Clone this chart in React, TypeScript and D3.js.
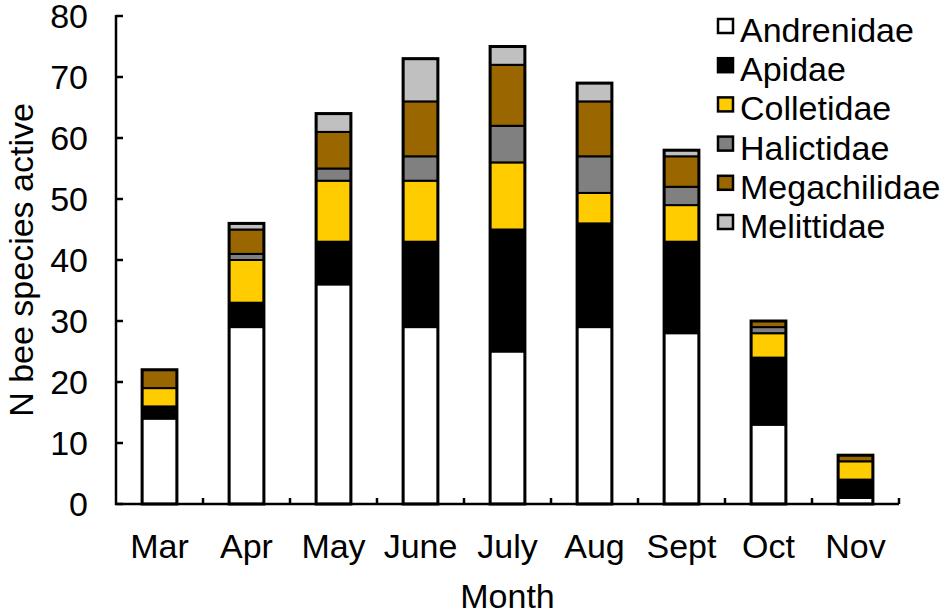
import React from 'react';
import * as d3 from 'd3';

const months = ['Mar', 'Apr', 'May', 'June', 'July', 'Aug', 'Sept', 'Oct', 'Nov'];
const families = ['Andrenidae', 'Apidae', 'Colletidae', 'Halictidae', 'Megachilidae', 'Melittidae'];
const colors = ['#ffffff', '#000000', '#ffcc00', '#808080', '#996600', '#c0c0c0'];

const andrenidae = [14, 29, 36, 29, 25, 29, 28, 13, 1];
const apidae = [2, 4, 7, 14, 20, 17, 15, 11, 3];
const colletidae = [3, 7, 10, 10, 11, 5, 6, 4, 3];
const halictidae = [0, 1, 2, 4, 6, 6, 3, 1, 0];
const megachilidae = [3, 4, 6, 9, 10, 9, 5, 1, 1];
const melittidae = [0, 1, 3, 7, 3, 3, 1, 0, 0];

const yTicks = [0, 10, 20, 30, 40, 50, 60, 70, 80];

const W = 951;
const H = 613;
const left = 116;
const right = 899;
const top = 16;
const bottom = 504;
const font = '"Liberation Sans", Arial, Helvetica, sans-serif';
const fs = 34;

export default function App() {
  const series = [andrenidae, apidae, colletidae, halictidae, megachilidae, melittidae];
  const rows = months.map((m, i) => {
    const r: any = { month: m };
    families.forEach((f, j) => (r[f] = series[j][i]));
    return r;
  });
  const stacked = d3.stack().keys(families)(rows);

  const x = d3.scaleBand().domain(months).range([left, right]).paddingInner(0.6).paddingOuter(0.3);
  const y = d3.scaleLinear().domain([0, 80]).range([bottom, top]);
  const step = x.step();
  const totals = rows.map((r) => d3.sum(families, (f) => r[f]));

  return (
    <div style={{ position: 'absolute', left: 0, top: 0 }}>
      <svg width={W} height={H} style={{ display: 'block', background: '#fff' }}>
        {/* stacked segments */}
        {stacked.map((s, j) => (
          <g key={families[j]}>
            {s.map((d, i) =>
              d[1] - d[0] > 0 ? (
                <rect
                  key={i}
                  x={x(months[i])!}
                  y={y(d[1])}
                  width={x.bandwidth()}
                  height={y(d[0]) - y(d[1])}
                  fill={colors[j]}
                  stroke="#000"
                  strokeWidth={2}
                />
              ) : null
            )}
          </g>
        ))}
        {/* bar outlines */}
        {months.map((m, i) => (
          <rect
            key={m}
            x={x(m)!}
            y={y(totals[i])}
            width={x.bandwidth()}
            height={y(0) - y(totals[i])}
            fill="none"
            stroke="#000"
            strokeWidth={3}
          />
        ))}

        {/* y axis */}
        <line x1={left} x2={left} y1={top - 1} y2={bottom + 1} stroke="#000" strokeWidth={2.5} />
        {yTicks.map((t) => (
          <g key={t}>
            <line x1={left} x2={left + 7} y1={y(t)} y2={y(t)} stroke="#000" strokeWidth={2.5} />
            <text
              x={88}
              y={y(t)}
              dy="0.36em"
              textAnchor="end"
              fontFamily={font}
              fontSize={fs}
            >
              {t}
            </text>
          </g>
        ))}

        {/* x axis */}
        <line x1={left - 1} x2={right} y1={bottom} y2={bottom} stroke="#000" strokeWidth={2.5} />
        {months.map((m, i) => (
          <line
            key={m}
            x1={left + step * (i + 1)}
            x2={left + step * (i + 1)}
            y1={bottom}
            y2={bottom - 6}
            stroke="#000"
            strokeWidth={2.5}
          />
        ))}
        {months.map((m) => (
          <text
            key={m}
            x={x(m)! + x.bandwidth() / 2}
            y={558}
            textAnchor="middle"
            fontFamily={font}
            fontSize={fs}
          >
            {m}
          </text>
        ))}
        <text x={(left + right) / 2} y={608} textAnchor="middle" fontFamily={font} fontSize={fs}>
          Month
        </text>
        <text
          transform={`translate(33,260) rotate(-90)`}
          textAnchor="middle"
          fontFamily={font}
          fontSize={fs}
        >
          N bee species active
        </text>

        {/* legend */}
        {families.map((f, j) => (
          <g key={f} transform={`translate(717,${18 + j * 39.2})`}>
            <rect x={1} y={1} width={15} height={14} fill={colors[j]} stroke="#000" strokeWidth={2.5} />
            <text x={23} y={24} fontFamily={font} fontSize={fs}>
              {f}
            </text>
          </g>
        ))}
      </svg>
    </div>
  );
}
